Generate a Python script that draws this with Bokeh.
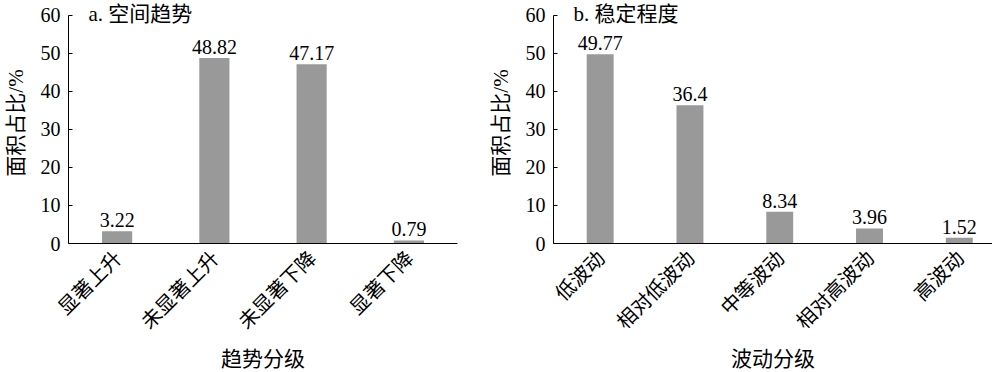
from math import pi
from bokeh.plotting import figure
from bokeh.layouts import row
from bokeh.models import ColumnDataSource, Range1d, FixedTicker, Label
from bokeh.core.properties import value
from bokeh.embed import file_html
from bokeh.resources import INLINE

# ---- data ----
trend_cats = ["显著上升", "未显著上升", "未显著下降", "显著下降"]
trend_vals = [3.22, 48.82, 47.17, 0.79]
trend_text = ["3.22", "48.82", "47.17", "0.79"]

stab_cats = ["低波动", "相对低波动", "中等波动", "相对高波动", "高波动"]
stab_vals = [49.77, 36.4, 8.34, 3.96, 1.52]
stab_text = ["49.77", "36.4", "8.34", "3.96", "1.52"]

y_ticks = [0, 10, 20, 30, 40, 50, 60]

SERIF = "'Liberation Serif', 'Noto Sans CJK SC'"
CJK = "'Noto Sans CJK SC'"
BAR = "#999999"


def panel(cats, vals, texts, title, xtitle, xr, fw, bl, br, bar_w, title_dx):
    xs = list(range(len(cats)))
    src = ColumnDataSource(dict(x=xs, y=vals, t=texts))
    p = figure(frame_width=fw, frame_height=241, x_range=Range1d(*xr), y_range=Range1d(0, 63.42),
               output_backend="svg", toolbar_location=None,
               min_border_left=bl, min_border_right=br, min_border_top=2, min_border_bottom=125)
    p.outline_line_color = None
    p.grid.visible = False
    p.background_fill_color = "white"
    p.border_fill_color = "white"

    p.vbar(x="x", top="y", width=bar_w, source=src, fill_color=BAR, line_color=None)
    p.text(x="x", y="y", text="t", source=src, text_align="center", text_baseline="alphabetic",
           y_offset=-11, text_font=value(SERIF), text_font_size="20px", text_color="black")

    ya = p.yaxis[0]
    ya.ticker = FixedTicker(ticks=y_ticks)
    ya.bounds = (0, 60)
    ya.minor_tick_line_color = None
    ya.major_tick_in = 4
    ya.major_tick_out = 0
    ya.major_label_standoff = 8
    ya.major_label_text_font = SERIF
    ya.major_label_text_font_size = "20px"
    ya.major_label_text_color = "black"
    ya.axis_line_color = "black"
    ya.major_tick_line_color = "black"
    ya.axis_label = "面积占比/%"
    ya.axis_label_text_font = SERIF
    ya.axis_label_text_font_size = "21px"
    ya.axis_label_text_font_style = "normal"
    ya.axis_label_text_color = "black"
    ya.axis_label_text_line_height = 1.0
    ya.axis_label_standoff = 10

    xa = p.xaxis[0]
    xa.ticker = FixedTicker(ticks=xs)
    xa.major_label_overrides = {i: c for i, c in enumerate(cats)}
    xa.major_label_orientation = pi / 4
    xa.major_tick_in = 0
    xa.major_tick_out = 0
    xa.minor_tick_line_color = None
    xa.major_label_standoff = 10
    xa.major_label_text_font = CJK
    xa.major_label_text_font_size = "20px"
    xa.major_label_text_color = "black"
    xa.axis_line_color = "black"
    xa.axis_label = xtitle
    xa.axis_label_text_font = CJK
    xa.axis_label_text_font_size = "21px"
    xa.axis_label_text_font_style = "normal"
    xa.axis_label_text_color = "black"
    xa.axis_label_text_line_height = 0.8
    xa.axis_label_standoff = -6

    p.add_layout(Label(x=xr[0], y=60, x_offset=title_dx, y_offset=1, text=title,
                       text_font=SERIF, text_font_size="21px", text_baseline="middle",
                       text_align="left", text_color="black"))
    return p


p1 = panel(trend_cats, trend_vals, trend_text, "a. 空间趋势", "趋势分级",
           (-0.5, 3.5), 389, 68, 23, 0.31, 20)
p2 = panel(stab_cats, stab_vals, stab_text, "b. 稳定程度", "波动分级",
           (-0.52, 4.37), 439, 73, 0, 0.30, 20)

layout = row(p1, p2)
open("out.html", "w").write(file_html(layout, INLINE))
